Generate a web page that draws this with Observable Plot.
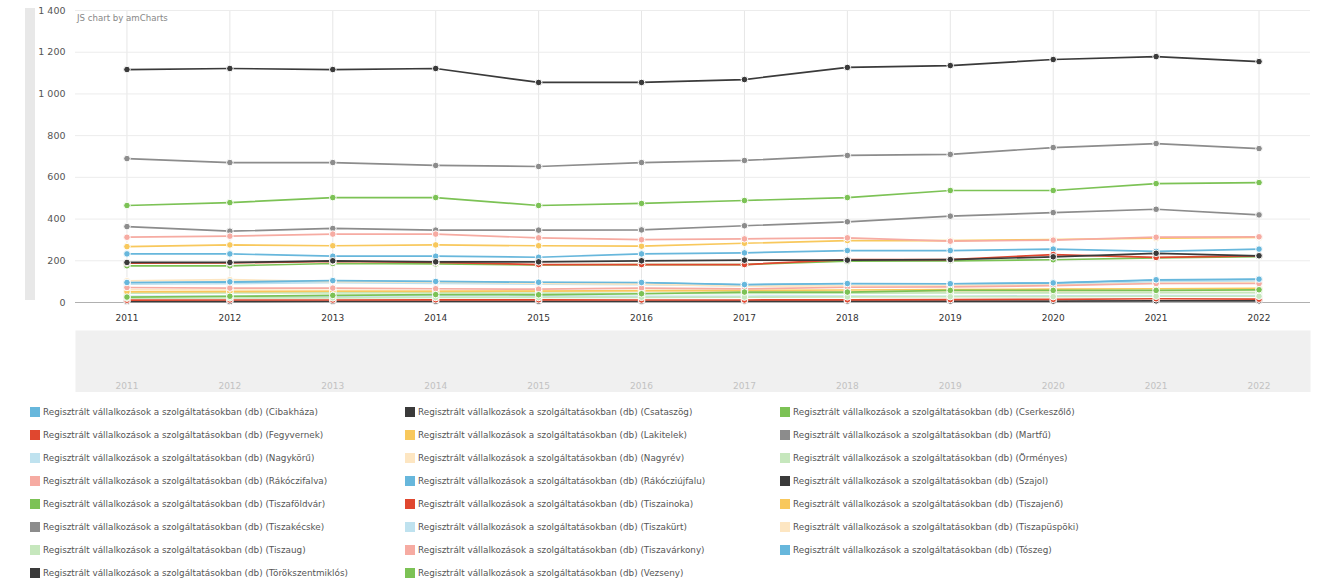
<!DOCTYPE html>
<html><head><meta charset="utf-8">
<script src="https://cdn.jsdelivr.net/npm/d3@7"></script>
<script src="https://cdn.jsdelivr.net/npm/@observablehq/plot@0.6"></script>
<style>
body{margin:0;background:#fff;font-family:"DejaVu Sans",Verdana,sans-serif;}
#wrap{position:relative;width:1325px;height:580px;overflow:hidden;}
#vbar{position:absolute;left:25px;top:8px;width:10px;height:292px;background:#e8e8e8;}
#credit{position:absolute;left:77px;top:13px;font-size:8.6px;color:#888;}
#legend{position:absolute;left:0;top:400px;width:1325px;height:180px;}
.li{position:absolute;height:23px;display:flex;align-items:center;font-size:8.8px;color:#555;white-space:nowrap;}
.sw{width:10px;height:10px;margin-right:3px;flex:none;}
#main,#scroll{display:block;}
</style></head>
<body>
<div id="wrap">
  <div id="main"></div>
  <div id="scroll"></div>
  <div id="vbar"></div>
  <div id="credit">JS chart by amCharts</div>
  <div id="legend"></div>
</div>
<script>
const years = [2011,2012,2013,2014,2015,2016,2017,2018,2019,2020,2021,2022];
const yTicks = [0,200,400,600,800,1000,1200,1400];
const seriesPrefix = "Regisztrált vállalkozások a szolgáltatásokban (db)";
const names = ["Cibakháza","Csataszög","Cserkeszőlő","Fegyvernek","Lakitelek","Martfű","Nagykörű","Nagyrév","Örményes","Rákóczifalva","Rákócziújfalu","Szajol","Tiszaföldvár","Tiszainoka","Tiszajenő","Tiszakécske","Tiszakürt","Tiszapüspöki","Tiszaug","Tiszavárkony","Tószeg","Törökszentmiklós","Vezseny"];
const palette = ["#67b7dc","#3a3a3a","#7cc255","#e0472f","#f8c85c","#8c8c8c","#bfe2ef","#fde6c2","#c6e7bd","#f6aba2"];

const cibakhaza      = [233,233,222,222,217,233,238,249,249,256,245,256];
const csataszog      = [5,5,6,6,6,6,7,7,7,7,8,8];
const cserkeszolo    = [176,176,187,185,180,182,182,198,200,205,214,220];
const fegyvernek     = [189,190,197,192,182,182,182,206,206,230,216,224];
const lakitelek      = [268,276,272,276,272,270,284,297,297,302,308,312];
const martfu         = [364,342,355,347,347,348,368,387,414,431,447,420];
const nagykoru       = [30,31,30,32,31,30,30,31,30,32,33,33];
const nagyrev        = [62,60,58,57,55,55,52,52,50,50,48,48];
const ormenyes       = [45,46,46,47,45,44,44,45,46,46,47,47];
const rakoczifalva   = [313,318,328,328,310,301,305,310,294,299,313,315];
const rakocziujfalu  = [94,97,102,99,95,94,85,90,89,93,106,110];
const szajol         = [192,192,200,195,195,200,203,203,206,219,236,224];
const tiszafoldvar   = [465,479,503,503,465,475,489,503,537,537,570,575];
const tiszainoka     = [11,12,12,13,13,12,12,13,14,15,18,16];
const tiszajeno      = [51,52,54,53,55,57,58,60,62,64,66,68];
const tiszakecske    = [690,671,671,657,652,671,681,705,710,743,762,738];
const tiszakurt      = [88,90,95,92,88,86,80,84,84,86,100,104];
const tiszapuspoki   = [104,110,100,98,92,88,78,80,82,84,92,96];
const tiszaug        = [21,22,22,24,24,25,26,27,28,28,30,30];
const tiszavarkony   = [72,69,69,66,64,69,65,73,75,81,91,91];
const toszeg         = [96,99,105,101,97,96,86,91,90,94,109,112];
const torokszentmiklos = [1117,1122,1117,1122,1055,1055,1069,1127,1136,1165,1179,1155];
const vezseny        = [26,30,34,38,37,42,50,50,58,58,58,61];

const series = [cibakhaza,csataszog,cserkeszolo,fegyvernek,lakitelek,martfu,nagykoru,nagyrev,ormenyes,rakoczifalva,rakocziujfalu,szajol,tiszafoldvar,tiszainoka,tiszajeno,tiszakecske,tiszakurt,tiszapuspoki,tiszaug,tiszavarkony,toszeg,torokszentmiklos,vezseny];

const data = [];
names.forEach((n,i) => series[i].forEach((v,j) => data.push({name:n, year:years[j], value:v})));

const colorOf = n => palette[names.indexOf(n) % palette.length];
const fmt = d => d3.format(",")(d).replace(/,/g," ");

const main = Plot.plot({
  width:1325, height:330, marginTop:10, marginBottom:28, marginLeft:75, marginRight:15,
  style:{fontFamily:"DejaVu Sans, Verdana, sans-serif", fontSize:"9px", color:"#444", background:"transparent"},
  x:{domain:[2010.5,2022.5]},
  y:{domain:[0,1400]},
  color:{domain:names, range:names.map(colorOf)},
  marks:[
    Plot.gridX(years,{stroke:"#e6e6e6", strokeOpacity:1}),
    Plot.gridY(yTicks,{stroke:"#ececec", strokeOpacity:1}),
    Plot.ruleY([0],{stroke:"#b0b0b0"}),
    Plot.line(data,{x:"year", y:"value", z:"name", stroke:"name", strokeWidth:1.7}),
    Plot.dot(data,{x:"year", y:"value", fill:"name", stroke:"#fff", strokeWidth:1, r:3.3}),
    Plot.axisX(years,{tickSize:0, tickPadding:12, tickFormat:d=>String(d), label:null, fill:"#333"}),
    Plot.axisY(yTicks,{tickSize:0, tickPadding:10, tickFormat:fmt, label:null, fill:"#555", fontSize:9.5})
  ]
});
document.getElementById("main").appendChild(main);

const scroll = Plot.plot({
  width:1325, height:62, marginTop:0, marginBottom:0, marginLeft:75, marginRight:15,
  style:{fontFamily:"DejaVu Sans, Verdana, sans-serif", fontSize:"9px", background:"transparent"},
  x:{domain:[2010.5,2022.5], axis:null},
  y:{axis:null},
  marks:[
    Plot.frame({fill:"#f0f0f0", stroke:null}),
    Plot.text(years,{x:d=>d, frameAnchor:"bottom", dy:-4, fill:"#c2c2c2", text:d=>String(d)})
  ]
});
document.getElementById("scroll").appendChild(scroll);

const cols = [30,405,780];
const legend = document.getElementById("legend");
names.forEach((n,i) => {
  const c = i % 3, r = Math.floor(i / 3);
  const el = document.createElement("div");
  el.className = "li";
  el.style.left = cols[c] + "px";
  el.style.top = (r * 23) + "px";
  const sw = document.createElement("span");
  sw.className = "sw";
  sw.style.background = colorOf(n);
  const t = document.createElement("span");
  t.textContent = seriesPrefix + " (" + n + ")";
  el.appendChild(sw); el.appendChild(t);
  legend.appendChild(el);
});
</script>
</body></html>
